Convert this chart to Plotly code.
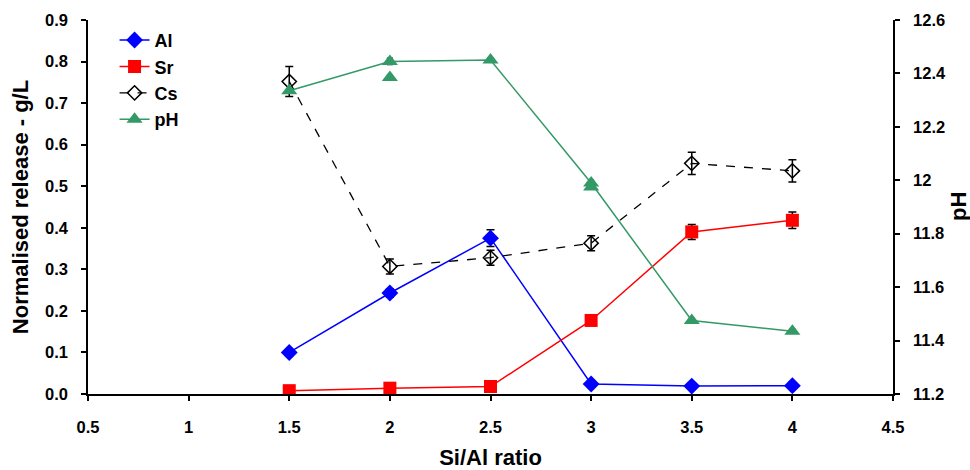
import plotly.graph_objects as go

x_vals = [1.5, 2, 2.5, 3, 3.5, 4]
al = [0.100, 0.243, 0.375, 0.024, 0.019, 0.020]
al_err = [0.006, 0.010, 0.020, 0.005, 0.004, 0.004]
sr = [0.008, 0.014, 0.018, 0.177, 0.390, 0.418]
sr_err = [0.003, 0.003, 0.004, 0.006, 0.018, 0.020]
cs = [0.752, 0.307, 0.328, 0.363, 0.555, 0.537]
cs_err = [0.036, 0.018, 0.018, 0.018, 0.027, 0.027]
ph = [12.335, 12.445, 12.450, 11.990, 11.475, 11.435]
ph_err = [0.008, 0.012, 0.008, 0.010, 0.008, 0.008]
ph_rep_x = [2, 3]
ph_rep = [12.385, 11.975]
ph_rep_err = [0.008, 0.008]

blue = "#0000FF"
red = "#FF0000"
green = "#339966"
FONT = "Liberation Sans, Arial, sans-serif"

fig = go.Figure()
fig.add_trace(go.Scatter(
    x=x_vals, y=al, name="Al", mode="lines+markers",
    line=dict(color=blue, width=1.5),
    marker=dict(symbol="diamond", size=13, color=blue),
    error_y=dict(type="data", array=al_err, color="black", thickness=1.5, width=4),
))
fig.add_trace(go.Scatter(
    x=x_vals, y=sr, name="Sr", mode="lines+markers",
    line=dict(color=red, width=1.5),
    marker=dict(symbol="square", size=13, color=red),
    error_y=dict(type="data", array=sr_err, color="black", thickness=1.5, width=4),
))
fig.add_trace(go.Scatter(
    x=x_vals, y=cs, name="Cs", mode="lines+markers",
    line=dict(color="black", width=1.3, dash="dash"),
    marker=dict(symbol="diamond-open", size=11, color="black", line=dict(width=1.5)),
    error_y=dict(type="data", array=cs_err, color="black", thickness=1.5, width=4),
))
fig.add_trace(go.Scatter(
    x=x_vals, y=ph, name="pH", mode="lines+markers", yaxis="y2",
    line=dict(color=green, width=1.5),
    marker=dict(symbol="triangle-up", size=14, color=green),
    error_y=dict(type="data", array=ph_err, color="black", thickness=1.5, width=3),
))
fig.add_trace(go.Scatter(
    x=ph_rep_x, y=ph_rep, name="pH", mode="markers", yaxis="y2", showlegend=False,
    marker=dict(symbol="triangle-up", size=14, color=green),
    error_y=dict(type="data", array=ph_rep_err, color="black", thickness=1.5, width=3),
))

axis_font = dict(family=FONT, size=16.5, color="black", weight="bold")
title_font = dict(family=FONT, size=22, color="black", weight="bold")

common = dict(
    showgrid=False, zeroline=False, automargin=False,
    showline=True, linecolor="black", linewidth=1.5,
    ticks="outside", ticklen=5, tickcolor="black", tickwidth=1.5,
    tickfont=axis_font,
)

fig.update_layout(
    width=970, height=470,
    margin=dict(l=88, r=77, t=20, b=76),
    plot_bgcolor="white", paper_bgcolor="white",
    font=dict(family=FONT, color="black"),
    xaxis=dict(
        range=[0.5, 4.5], tick0=0.5, dtick=0.5, ticklabelstandoff=12, **common,
        title=dict(text="Si/Al ratio", font=title_font, standoff=16),
    ),
    yaxis=dict(
        range=[0, 0.9], dtick=0.1, tickformat=".1f", ticklabelstandoff=10, **common,
        title=dict(text="Normalised release - g/L", font=title_font, standoff=10),
    ),
    yaxis2=dict(
        range=[11.2, 12.6], dtick=0.2, overlaying="y", side="right",
        ticklabelstandoff=10, **common,
    ),
    legend=dict(
        x=0.033, y=0.995, xanchor="left", yanchor="top",
        font=dict(family=FONT, size=18, color="black", weight="bold"),
        bgcolor="rgba(255,255,255,0)", tracegroupgap=0,
    ),
    showlegend=True,
    annotations=[dict(
        text="pH", xref="paper", yref="paper", x=1, y=0.5,
        xanchor="center", yanchor="middle", xshift=65, textangle=-90,
        showarrow=False, font=title_font,
    )],
)

fig.write_html(
    "out.html",
    config={"displayModeBar": False},
    post_script="document.body.style.margin='0';document.body.style.overflow='hidden';",
)
